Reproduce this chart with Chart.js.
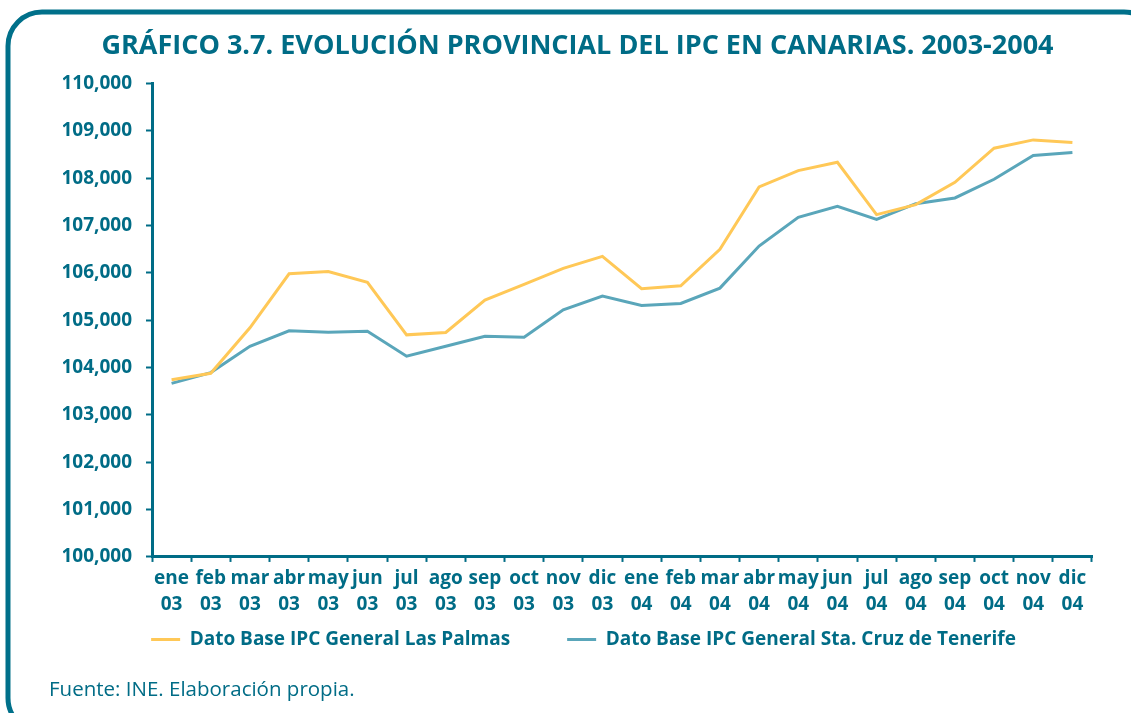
<!DOCTYPE html>
<html>
<head>
<meta charset="utf-8">
<script src="https://cdn.jsdelivr.net/npm/chart.js@4/dist/chart.umd.min.js"></script>
<style>
  html, body { margin: 0; padding: 0; background: #fff; }
  #wrap { width: 1131px; height: 713px; }
</style>
</head>
<body>
<div id="wrap"><canvas id="myChart" width="1131" height="713"></canvas></div>
<script>
var months = ['ene', 'feb', 'mar', 'abr', 'may', 'jun', 'jul', 'ago', 'sep', 'oct', 'nov', 'dic'];
var years = ['03', '04'];
var lasPalmas = [103744, 103878, 104838, 105980, 106029, 105797, 104690, 104739, 105423, 105754, 106093, 106347,
                 105663, 105727, 106495, 107813, 108159, 108335, 107228, 107440, 107912, 108631, 108807, 108750];
var tenerife = [103666, 103893, 104449, 104775, 104745, 104767, 104238, 104449, 104660, 104640, 105218, 105508,
                105310, 105352, 105677, 106565, 107172, 107404, 107129, 107460, 107581, 107976, 108476, 108540];

var teal = '#006c86';
var font = '"Open Sans", "Noto Sans", sans-serif';

var labels = [];
years.forEach(function (y) {
    months.forEach(function (m) { labels.push([m, y]); });
});

// marco redondeado, nota de fuente y leyenda subida bajo el eje
var framePlugin = {
    id: 'frame',
    afterLayout: function (chart) {
        var lg = chart.legend;
        lg.top = 573;
        lg.bottom = lg.top + lg.height;
        lg.left += 6;
        lg.right += 6;
    },
    beforeDraw: function (chart) {
        var ctx = chart.ctx;
        ctx.save();
        ctx.strokeStyle = '#00708a';
        ctx.lineWidth = 5;
        ctx.beginPath();
        ctx.roundRect(8, 12, 1150, 720, 34);
        ctx.stroke();
        ctx.restore();
    },
    afterDraw: function (chart) {
        var ctx = chart.ctx;
        ctx.save();
        ctx.fillStyle = teal;
        ctx.font = '20.5px ' + font;
        ctx.textBaseline = 'middle';
        ctx.fillText('Fuente: INE. Elaboración propia.', 49, 690);
        ctx.restore();
    }
};

function createChart() {
    var ctx = document.getElementById('myChart').getContext('2d');
    new Chart(ctx, {
        type: 'line',
        data: {
            labels: labels,
            datasets: [{
                label: 'Dato Base IPC General Las Palmas',
                data: lasPalmas,
                borderColor: '#ffc857',
                backgroundColor: '#ffc857',
                borderWidth: 3,
                pointRadius: 0,
                tension: 0
            }, {
                label: 'Dato Base IPC General Sta. Cruz de Tenerife',
                data: tenerife,
                borderColor: '#5aa6ba',
                backgroundColor: '#5aa6ba',
                borderWidth: 3,
                pointRadius: 0,
                tension: 0
            }]
        },
        options: {
            responsive: false,
            animation: false,
            layout: { padding: { left: 63, right: 39, top: 0, bottom: 5 } },
            plugins: {
                title: {
                    display: true,
                    text: 'GRÁFICO 3.7. EVOLUCIÓN PROVINCIAL DEL IPC EN CANARIAS. 2003-2004',
                    color: teal,
                    font: { family: font, size: 27, weight: 'bold', lineHeight: 1.2 },
                    padding: { top: 30, bottom: 21 }
                },
                legend: {
                    position: 'bottom',
                    labels: {
                        usePointStyle: true,
                        pointStyle: 'line',
                        pointStyleWidth: 29,
                        color: teal,
                        font: { family: font, size: 19, weight: 'bold' },
                        padding: 57
                    }
                },
                tooltip: { enabled: false }
            },
            scales: {
                x: {
                    offset: true,
                    grid: { drawOnChartArea: false, offset: true, tickLength: 5, tickWidth: 2, tickColor: teal },
                    border: { color: teal, width: 3 },
                    ticks: {
                        autoSkip: false,
                        maxRotation: 0,
                        minRotation: 0,
                        padding: 4,
                        color: teal,
                        font: { family: font, size: 19, weight: 'bold', lineHeight: 1.37 }
                    }
                },
                y: {
                    min: 100000,
                    max: 110000,
                    afterFit: function (s) { s.width = 89; },
                    grid: { drawOnChartArea: false, tickLength: 6, tickWidth: 2, tickColor: teal },
                    border: { color: teal, width: 3 },
                    ticks: {
                        stepSize: 1000,
                        padding: 14,
                        color: teal,
                        font: { family: font, size: 19, weight: 'bold' },
                        callback: function (v) { return v.toLocaleString('en-US'); }
                    }
                }
            }
        },
        plugins: [framePlugin]
    });
}

document.addEventListener("DOMContentLoaded", function () {
    createChart();
});
</script>
</body>
</html>
